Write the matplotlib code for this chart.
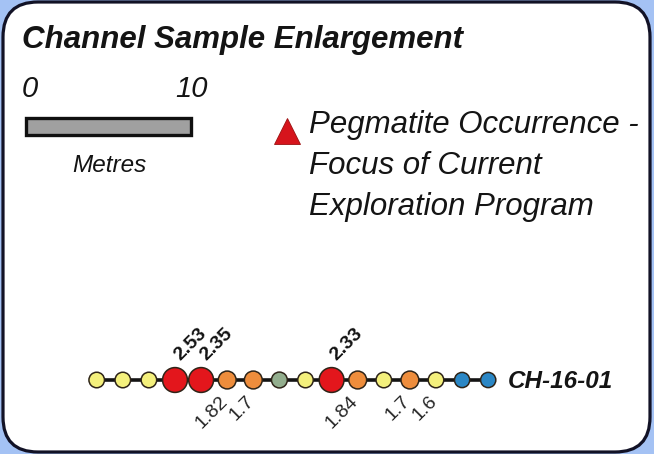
import matplotlib
matplotlib.use("Agg")
import matplotlib.pyplot as plt
from matplotlib.patches import FancyBboxPatch, Rectangle
import numpy as np

# ---- data ----
sample_classes = ['low', 'low', 'low', 'high', 'high', 'mid', 'mid', 'trace', 'low',
                  'high', 'mid', 'low', 'mid', 'low', 'nil', 'nil']
above_idx = [3, 4, 9]
above_vals = ['2.53', '2.35', '2.33']
below_idx = [5, 6, 10, 12, 13]
below_vals = ['1.82', '1.7', '1.84', '1.7', '1.6']
channel_name = 'CH-16-01'
scale_labels = ['0', '10']

class_color = {'low': '#f4f07c', 'high': '#e3161c', 'mid': '#ee8d3c',
               'trace': '#93ae8e', 'nil': '#2b87c5'}
class_size = {'low': 125, 'high': 320, 'mid': 165, 'trace': 130, 'nil': 120}

W, H = 654, 454
fig = plt.figure(figsize=(W / 100, H / 100), dpi=100)
fig.patch.set_facecolor('#a4c2f4')

bg = fig.add_axes([0, 0, 1, 1])
bg.set_xlim(0, W)
bg.set_ylim(H, 0)
bg.axis('off')

box = FancyBboxPatch((3, 2), 647, 450, boxstyle='round,pad=0,rounding_size=35',
                     facecolor='white', edgecolor='#121226', linewidth=2.3)
bg.add_patch(box)

fam = ['Liberation Sans', 'DejaVu Sans']
tc = '#141414'
bg.text(22, 48, 'Channel Sample Enlargement', fontsize=22.5, fontweight='bold',
        fontstyle='italic', family=fam, color=tc, va='baseline', ha='left')
bg.text(22, 97, scale_labels[0], fontsize=21, fontstyle='italic', family=fam,
        color=tc, va='baseline', ha='left')
bg.text(208, 97, scale_labels[1], fontsize=21, fontstyle='italic', family=fam,
        color=tc, va='baseline', ha='right')
bg.add_patch(Rectangle((26, 118), 165, 17, facecolor='#a0a0a0',
                       edgecolor='#101010', linewidth=2.4))
bg.text(109, 172, 'Metres', fontsize=17.5, fontstyle='italic', family=fam,
        color=tc, va='baseline', ha='center')

bg.plot([287], [131], marker='^', markersize=19, color='#d6141c',
        markeredgecolor='#9a1010', markeredgewidth=0.6)
legend_lines = ['Pegmatite Occurrence -', 'Focus of Current', 'Exploration Program']
for k, line in enumerate(legend_lines):
    bg.text(309, 133 + 41 * k, line, fontsize=22.5, fontstyle='italic', family=fam,
            color=tc, va='baseline', ha='left')

# ---- channel samples ----
x0_px, step_px, y_px = 96.7, 26.1, 380
ax = fig.add_axes([0, (H - (y_px + 50)) / H, 1, 100 / H])
ax.set_xlim(-x0_px / step_px, (W - x0_px) / step_px)
ax.set_ylim(-1, 1)
ax.axis('off')

idx = np.arange(len(sample_classes))
ax.plot(idx, np.zeros_like(idx), color='#141414', linewidth=2.6, zorder=1)
ax.scatter(idx, np.zeros_like(idx),
           s=[class_size[c] for c in sample_classes],
           c=[class_color[c] for c in sample_classes],
           edgecolors='#2e2418', linewidths=1.1, zorder=2)

for i, v in zip(above_idx, above_vals):
    ax.annotate(v, (i, 0), xytext=(5, 19), textcoords='offset pixels',
                rotation=45, rotation_mode='anchor', ha='left', va='baseline',
                fontsize=14, fontweight='bold', family=fam, color=tc)
for i, v in zip(below_idx, below_vals):
    ax.annotate(v, (i, 0), xytext=(-8, -13), textcoords='offset pixels',
                rotation=45, rotation_mode='anchor', ha='right', va='top',
                fontsize=14, family=fam, color='#262626')

ax.annotate(channel_name, (idx[-1], 0), xytext=(20, -8), textcoords='offset pixels',
            ha='left', va='baseline', fontsize=17.5, fontweight='bold',
            fontstyle='italic', family=fam, color=tc)

fig.savefig('out.png', dpi=100, facecolor=fig.get_facecolor())
